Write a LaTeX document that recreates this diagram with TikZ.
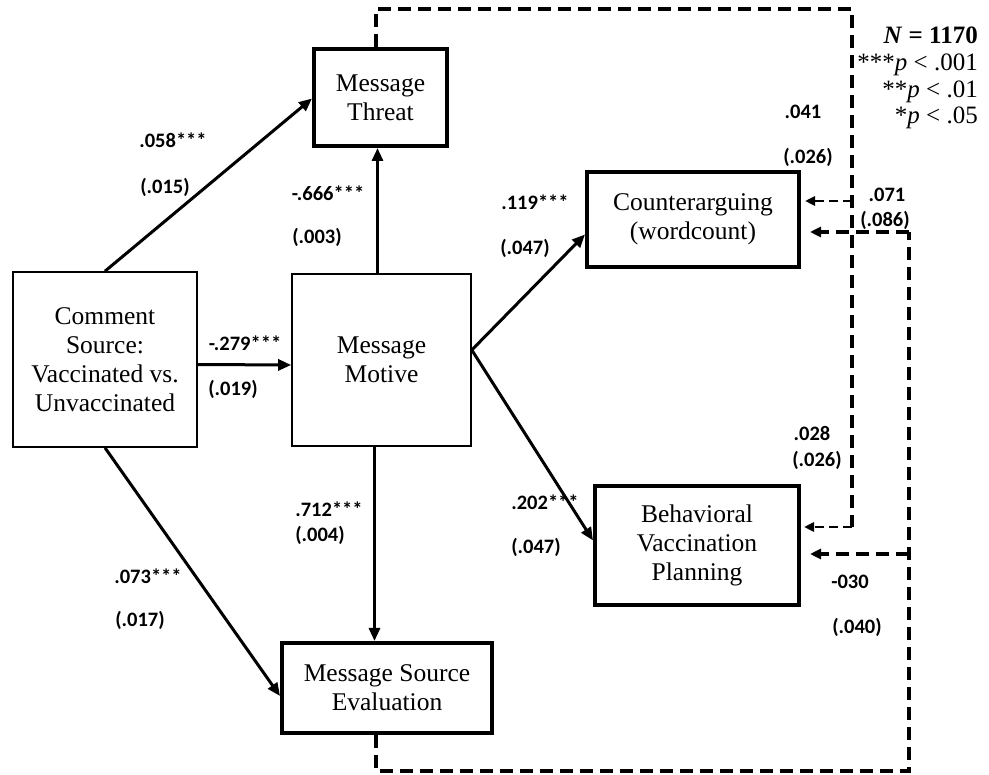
\documentclass[tikz,border=0pt]{standalone}
\usepackage{fontspec}
\setmainfont{Liberation Serif}
\newfontfamily\carlito{Carlito}
\usetikzlibrary{arrows.meta,calc}
\begin{document}
\begin{tikzpicture}[x=1pt,y=-1pt,
  box/.style={draw,inner sep=0pt,align=center,font=\fontsize{25.5}{29}\selectfont},
  thinbox/.style={box,line width=1.6pt},
  thickbox/.style={box,line width=4pt},
  arr/.style={line width=3pt,-{Triangle[length=13pt,width=11pt]}},
  dline/.style={line width=3.4pt,dash pattern=on 13pt off 7pt},
  darr/.style={line width=3.4pt,dash pattern=on 13pt off 7pt,-{Triangle[length=11pt,width=10pt]}},
  tarr/.style={line width=2.5pt,dash pattern=on 9pt off 5pt,-{Triangle[length=10pt,width=9pt]}},
  lab/.style={font=\carlito\bfseries\fontsize{20.5}{23}\selectfont,inner sep=0pt},
  leg/.style={anchor=east,inner sep=0pt,font=\fontsize{25}{27}\selectfont}
]
\useasboundingbox (0,0) rectangle (989,775);

% boxes
\node[thinbox,minimum width=184pt,minimum height=175pt] (cs) at (105,359.5) {Comment\\Source:\\Vaccinated vs.\\Unvaccinated};
\node[thinbox,minimum width=179pt,minimum height=172pt] (mm) at (381.5,360) {Message\\Motive};
\node[thickbox,minimum width=133pt,minimum height=97pt] (mt) at (380.5,97.5) {Message\\Threat};
\node[thickbox,minimum width=212pt,minimum height=95pt] (ca) at (693,219.5) {Counterarguing\\(wordcount)};
\node[thickbox,minimum width=204pt,minimum height=119pt] (bv) at (697,545.5) {Behavioral\\Vaccination\\Planning};
\node[thickbox,minimum width=210pt,minimum height=90pt] (se) at (387,688) {Message Source\\Evaluation};

% solid paths
\draw[arr] (cs.north) -- ([yshift=-1pt]mt.west);
\draw[arr] (cs.south) -- ([yshift=-8pt]se.west);
\draw[arr] ([yshift=-5pt]cs.east) -- ([yshift=-5pt]mm.west);
\draw[arr] ([xshift=-4pt]mm.north) -- ([xshift=-4pt]mm.north |- mt.south);
\draw[arr] ([xshift=-7pt]mm.south) -- ([xshift=-7pt]mm.south |- se.north);
\draw[arr] ([yshift=10pt]mm.east) -- ([yshift=-15pt]ca.west);
\draw[arr] ([yshift=10pt]mm.east) -- ([yshift=5pt]bv.west);

% dashed paths
\coordinate (a1) at (376,9);
\coordinate (a2) at (852,9);
\coordinate (a3) at (852,527);
\coordinate (a4) at (852,201);
\coordinate (b1) at (376,771);
\coordinate (b2) at (909,771);
\coordinate (b3) at (909,232);
\coordinate (b4) at (909,554);

\draw[dline] ([xshift=-4.5pt]mt.north) -- (a1) -- (a2) -- (a3);
\draw[tarr,shorten >=3pt] (a3) -- (a3 -| bv.east);
\draw[tarr,shorten >=4pt] (a4) -- (a4 -| ca.east);
\draw[dline] ([xshift=-11pt]se.south) -- (b1) -- (b2) -- (b3);
\draw[darr,shorten >=9pt] (b3) -- (b3 -| ca.east);
\draw[darr,shorten >=9pt] (b4) -- (b4 -| bv.east);

% labels
\node[lab] (l1) at (173,140) {.058***};
\node[lab] (l2) at (165,187) {(.015)};
\node[lab] (l3) at (328,193) {-.666***};
\node[lab] (l4) at (317,237) {(.003)};
\node[lab] (l5) at (245,343) {-.279***};
\node[lab] (l6) at (233,389) {(.019)};
\node[lab] (l7) at (329,509) {.712***};
\node[lab] (l8) at (320,535) {(.004)};
\node[lab] (l9) at (148,576) {.073***};
\node[lab] (l10) at (140,620) {(.017)};
\node[lab] (l11) at (535,202) {.119***};
\node[lab] (l12) at (525,248) {(.047)};
\node[lab] (l13) at (545,502) {.202***};
\node[lab] (l14) at (536,547) {(.047)};
\node[lab] (l15) at (803,112) {.041};
\node[lab] (l16) at (808,157) {(.026)};
\node[lab] (l17) at (887,195) {.071};
\node[lab] (l18) at (885,220) {(.086)};
\node[lab] (l19) at (812,433) {.028};
\node[lab] (l20) at (817,460) {(.026)};
\node[lab] (l21) at (850,582) {-030};
\node[lab] (l22) at (857,627) {(.040)};

% legend
\node[leg] (g1) at (978,35) {\textbf{\textit{N} = 1170}};
\node[leg] (g2) at (978,65) {***\textit{p} < .001};
\node[leg] (g3) at (978,92) {**\textit{p} < .01};
\node[leg] (g4) at (978,118) {*\textit{p} < .05};
\end{tikzpicture}
\end{document}
